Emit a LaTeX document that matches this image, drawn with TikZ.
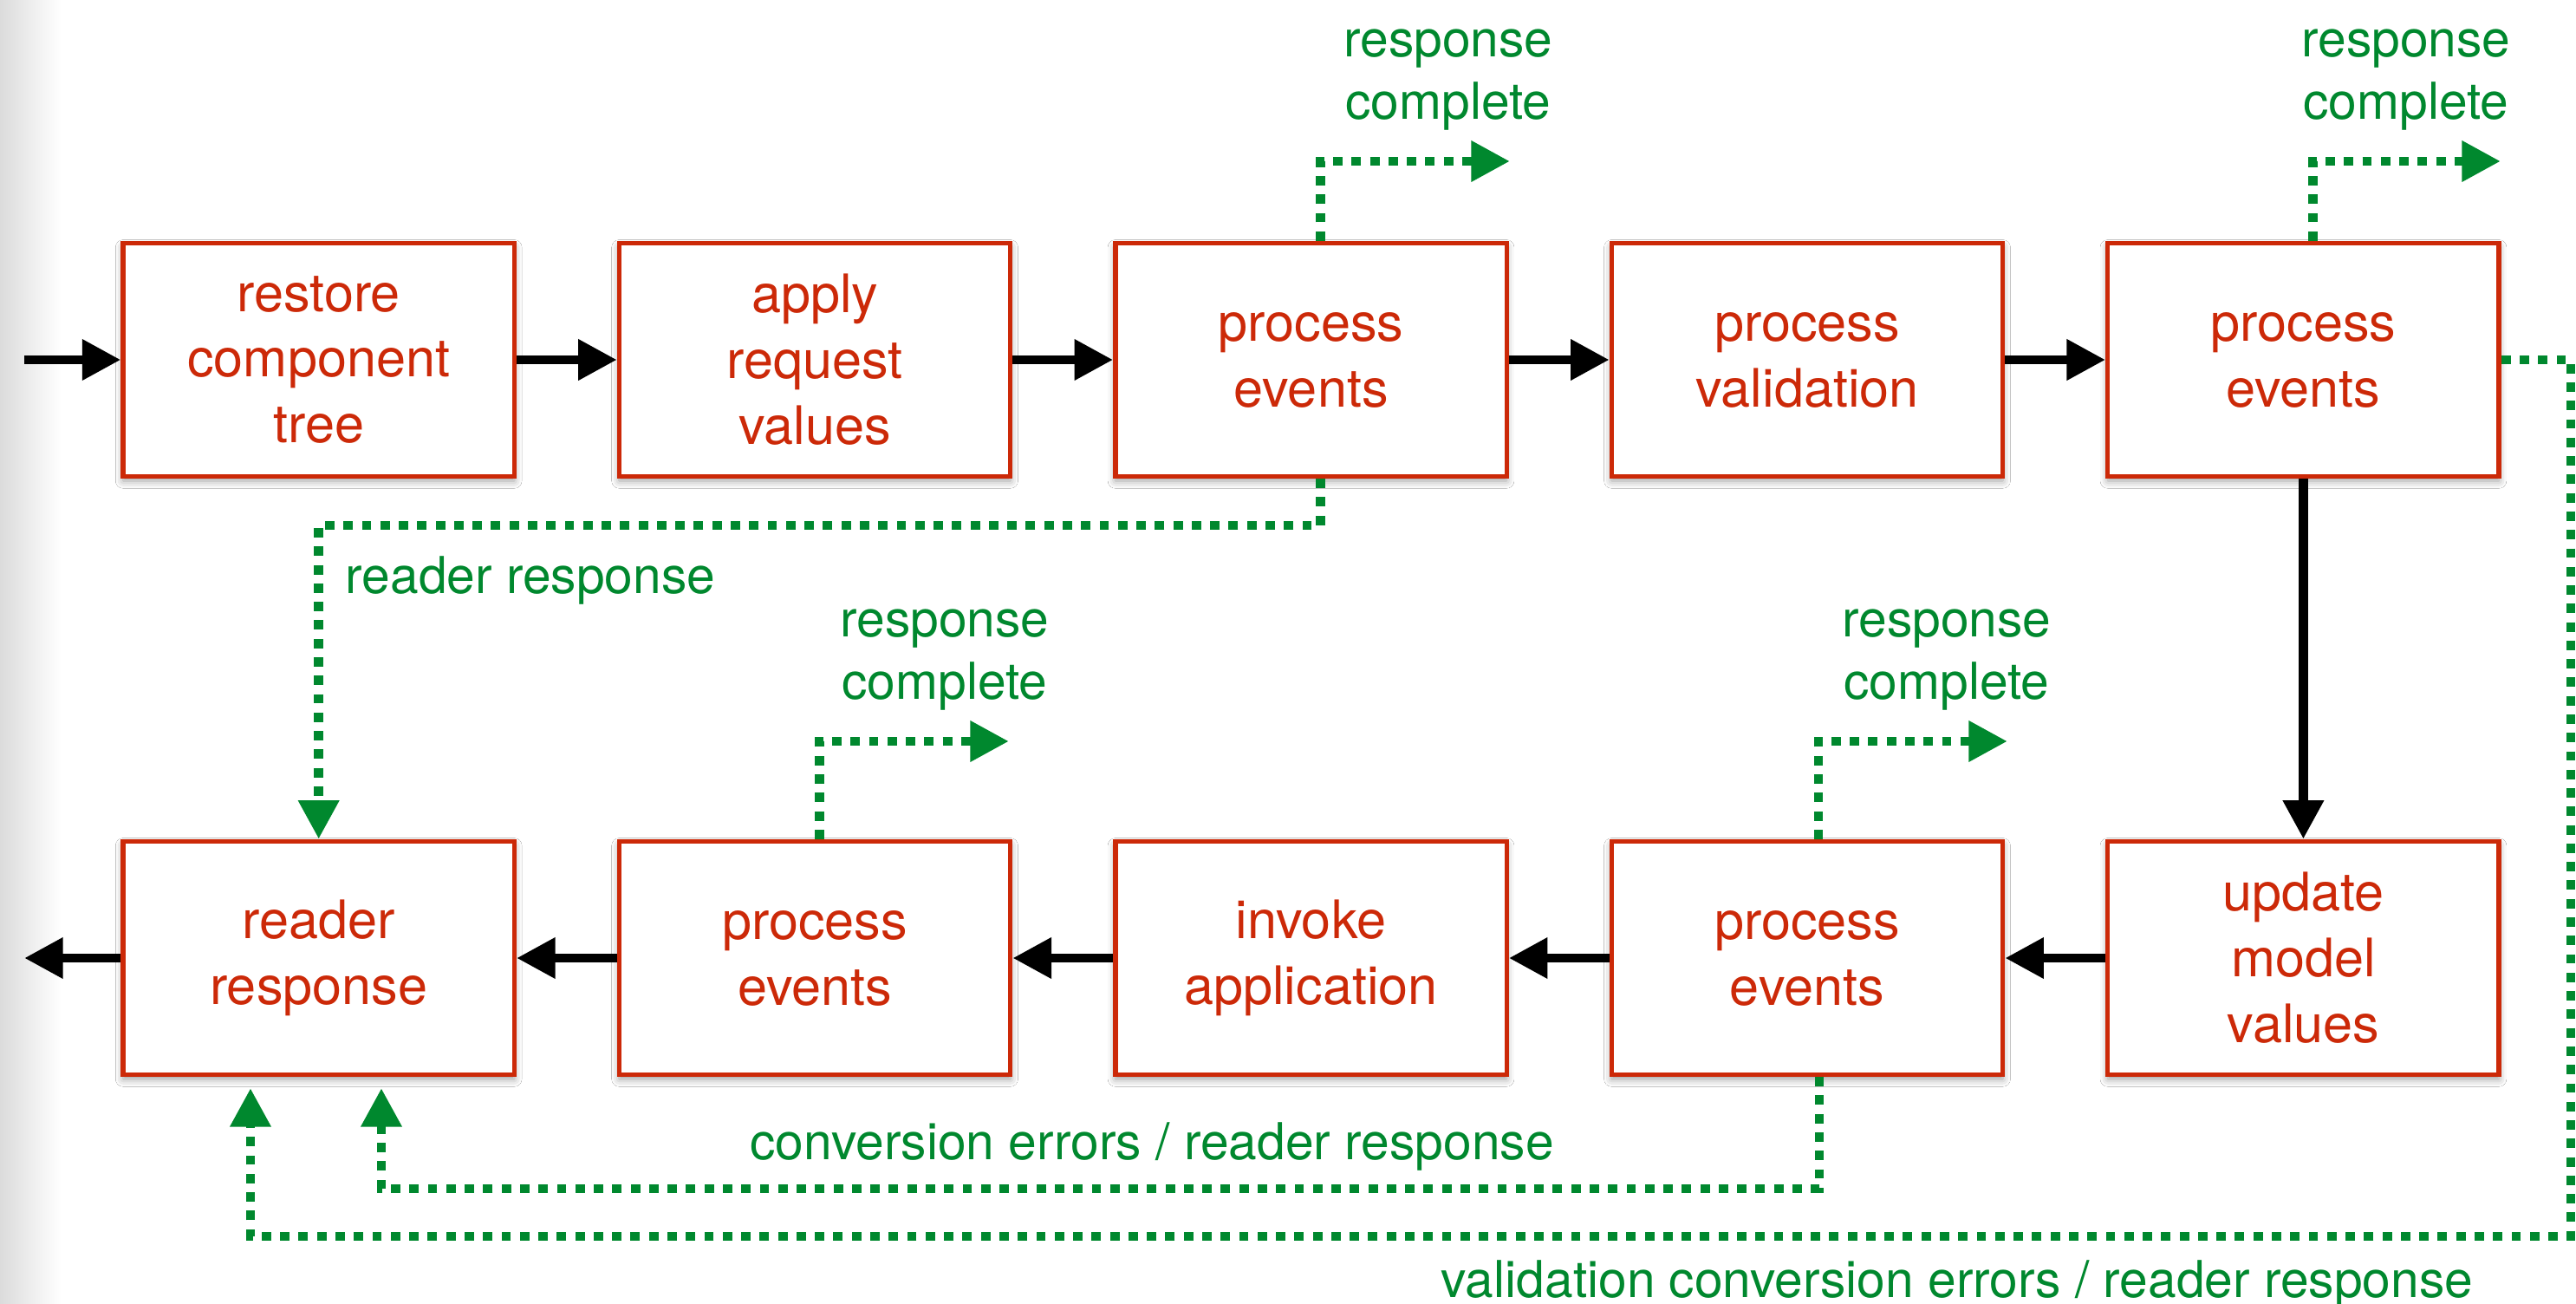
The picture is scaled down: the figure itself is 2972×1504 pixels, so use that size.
\documentclass[tikz,border=0pt]{standalone}
\usepackage{fontspec}
\setmainfont{TeX Gyre Heros}
\usetikzlibrary{arrows.meta,shadows.blur}
\definecolor{boxred}{RGB}{204,41,8}
\definecolor{grn}{RGB}{0,136,46}
\begin{document}
\begin{tikzpicture}[x=0.01cm,y=-0.01cm,
  stage/.style={draw=boxred, line width=1.5pt, fill=white, minimum width=4.51cm, minimum height=2.69cm, inner sep=0pt, text=boxred, align=center, font=\fontsize{17.4}{21.6}\selectfont, blur shadow={shadow xshift=0pt, shadow yshift=-1.4pt, shadow blur radius=2.5pt, shadow opacity=40}},
  flow/.style={line width=3.1pt, -{Triangle[length=12.7pt,width=12.7pt]}},
  alt/.style={draw=grn, line width=3.1pt, dash pattern=on 3.1pt off 2.95pt, -{Triangle[length=12.7pt,width=12.7pt]}},
  lbl/.style={text=grn, align=center, font=\fontsize{16.7}{20.5}\selectfont, inner sep=0pt}
]
\useasboundingbox (0,0) rectangle (2972,1504);
\fill[white] (0,0) rectangle (2972,1504);
\shade[left color=black!14, right color=white] (0,0) rectangle (70,1504);

% stages
\node[stage] (b1) at (367.7,415) {restore\\component\\tree};
\node[stage] (b2) at (940.1,415) {apply\\request\\values};
\node[stage] (b3) at (1512.5,415) {process\\events};
\node[stage] (b4) at (2085,415) {process\\validation};
\node[stage] (b5) at (2657.4,415) {process\\events};
\node[stage] (b6) at (367.7,1105) {reader\\response};
\node[stage] (b7) at (940.1,1105) {process\\events};
\node[stage] (b8) at (1512.5,1105) {invoke\\application};
\node[stage] (b9) at (2085,1105) {process\\events};
\node[stage] (b10) at (2657.4,1105) {update\\model\\values};

% free ends
\coordinate (in) at (28,415);
\coordinate (out) at (28,1105);
\coordinate (rc1) at (1742,186);
\coordinate (rc2) at (2885,186);
\coordinate (rc3) at (1164,855);
\coordinate (rc4) at (2316,855);
\coordinate (k3) at (367.7,606);
\coordinate (k6) at (440,1371);
\coordinate (t6) at (440,1255);
\coordinate (k7) at (2966,1426);
\coordinate (t7) at (289,1255);

% main flow
\draw[flow] (in) -- (b1.west);
\draw[flow] (b1.east) -- (b2.west);
\draw[flow] (b2.east) -- (b3.west);
\draw[flow] (b3.east) -- (b4.west);
\draw[flow] (b4.east) -- (b5.west);
\draw[flow] (b5.south) -- (b10.north);
\draw[flow] (b10.west) -- (b9.east);
\draw[flow] (b9.west) -- (b8.east);
\draw[flow] (b8.west) -- (b7.east);
\draw[flow] (b7.west) -- (b6.east);
\draw[flow] (b6.west) -- (out);

% alternative flows
\draw[alt] ([xshift=0.11cm]b3.north) |- (rc1);
\draw[alt] ([xshift=0.11cm]b5.north) |- (rc2);
\draw[alt] ([xshift=0.05cm]b7.north) |- (rc3);
\draw[alt] ([xshift=0.13cm]b9.north) |- (rc4);
\draw[alt] ([xshift=0.11cm]b3.south) |- (k3) -- (b6.north);
\draw[alt] ([xshift=0.14cm]b9.south) |- (k6) -- (t6);
\draw[alt] (b5.east) -| (k7) -| (t7);

% labels
\node[lbl] (l1) at (1671,92) {response\\complete};
\node[lbl] (l2) at (2776,92) {response\\complete};
\node[lbl] (l4) at (1090,761) {response\\complete};
\node[lbl] (l5) at (2246,761) {response\\complete};
\node[lbl, anchor=west] (l3) at (398,670) {reader response};
\node[lbl] (l6) at (1329,1322) {conversion errors / reader response};
\node[lbl, anchor=west] (l7) at (1662,1481) {validation conversion errors / reader response};
\end{tikzpicture}
\end{document}
